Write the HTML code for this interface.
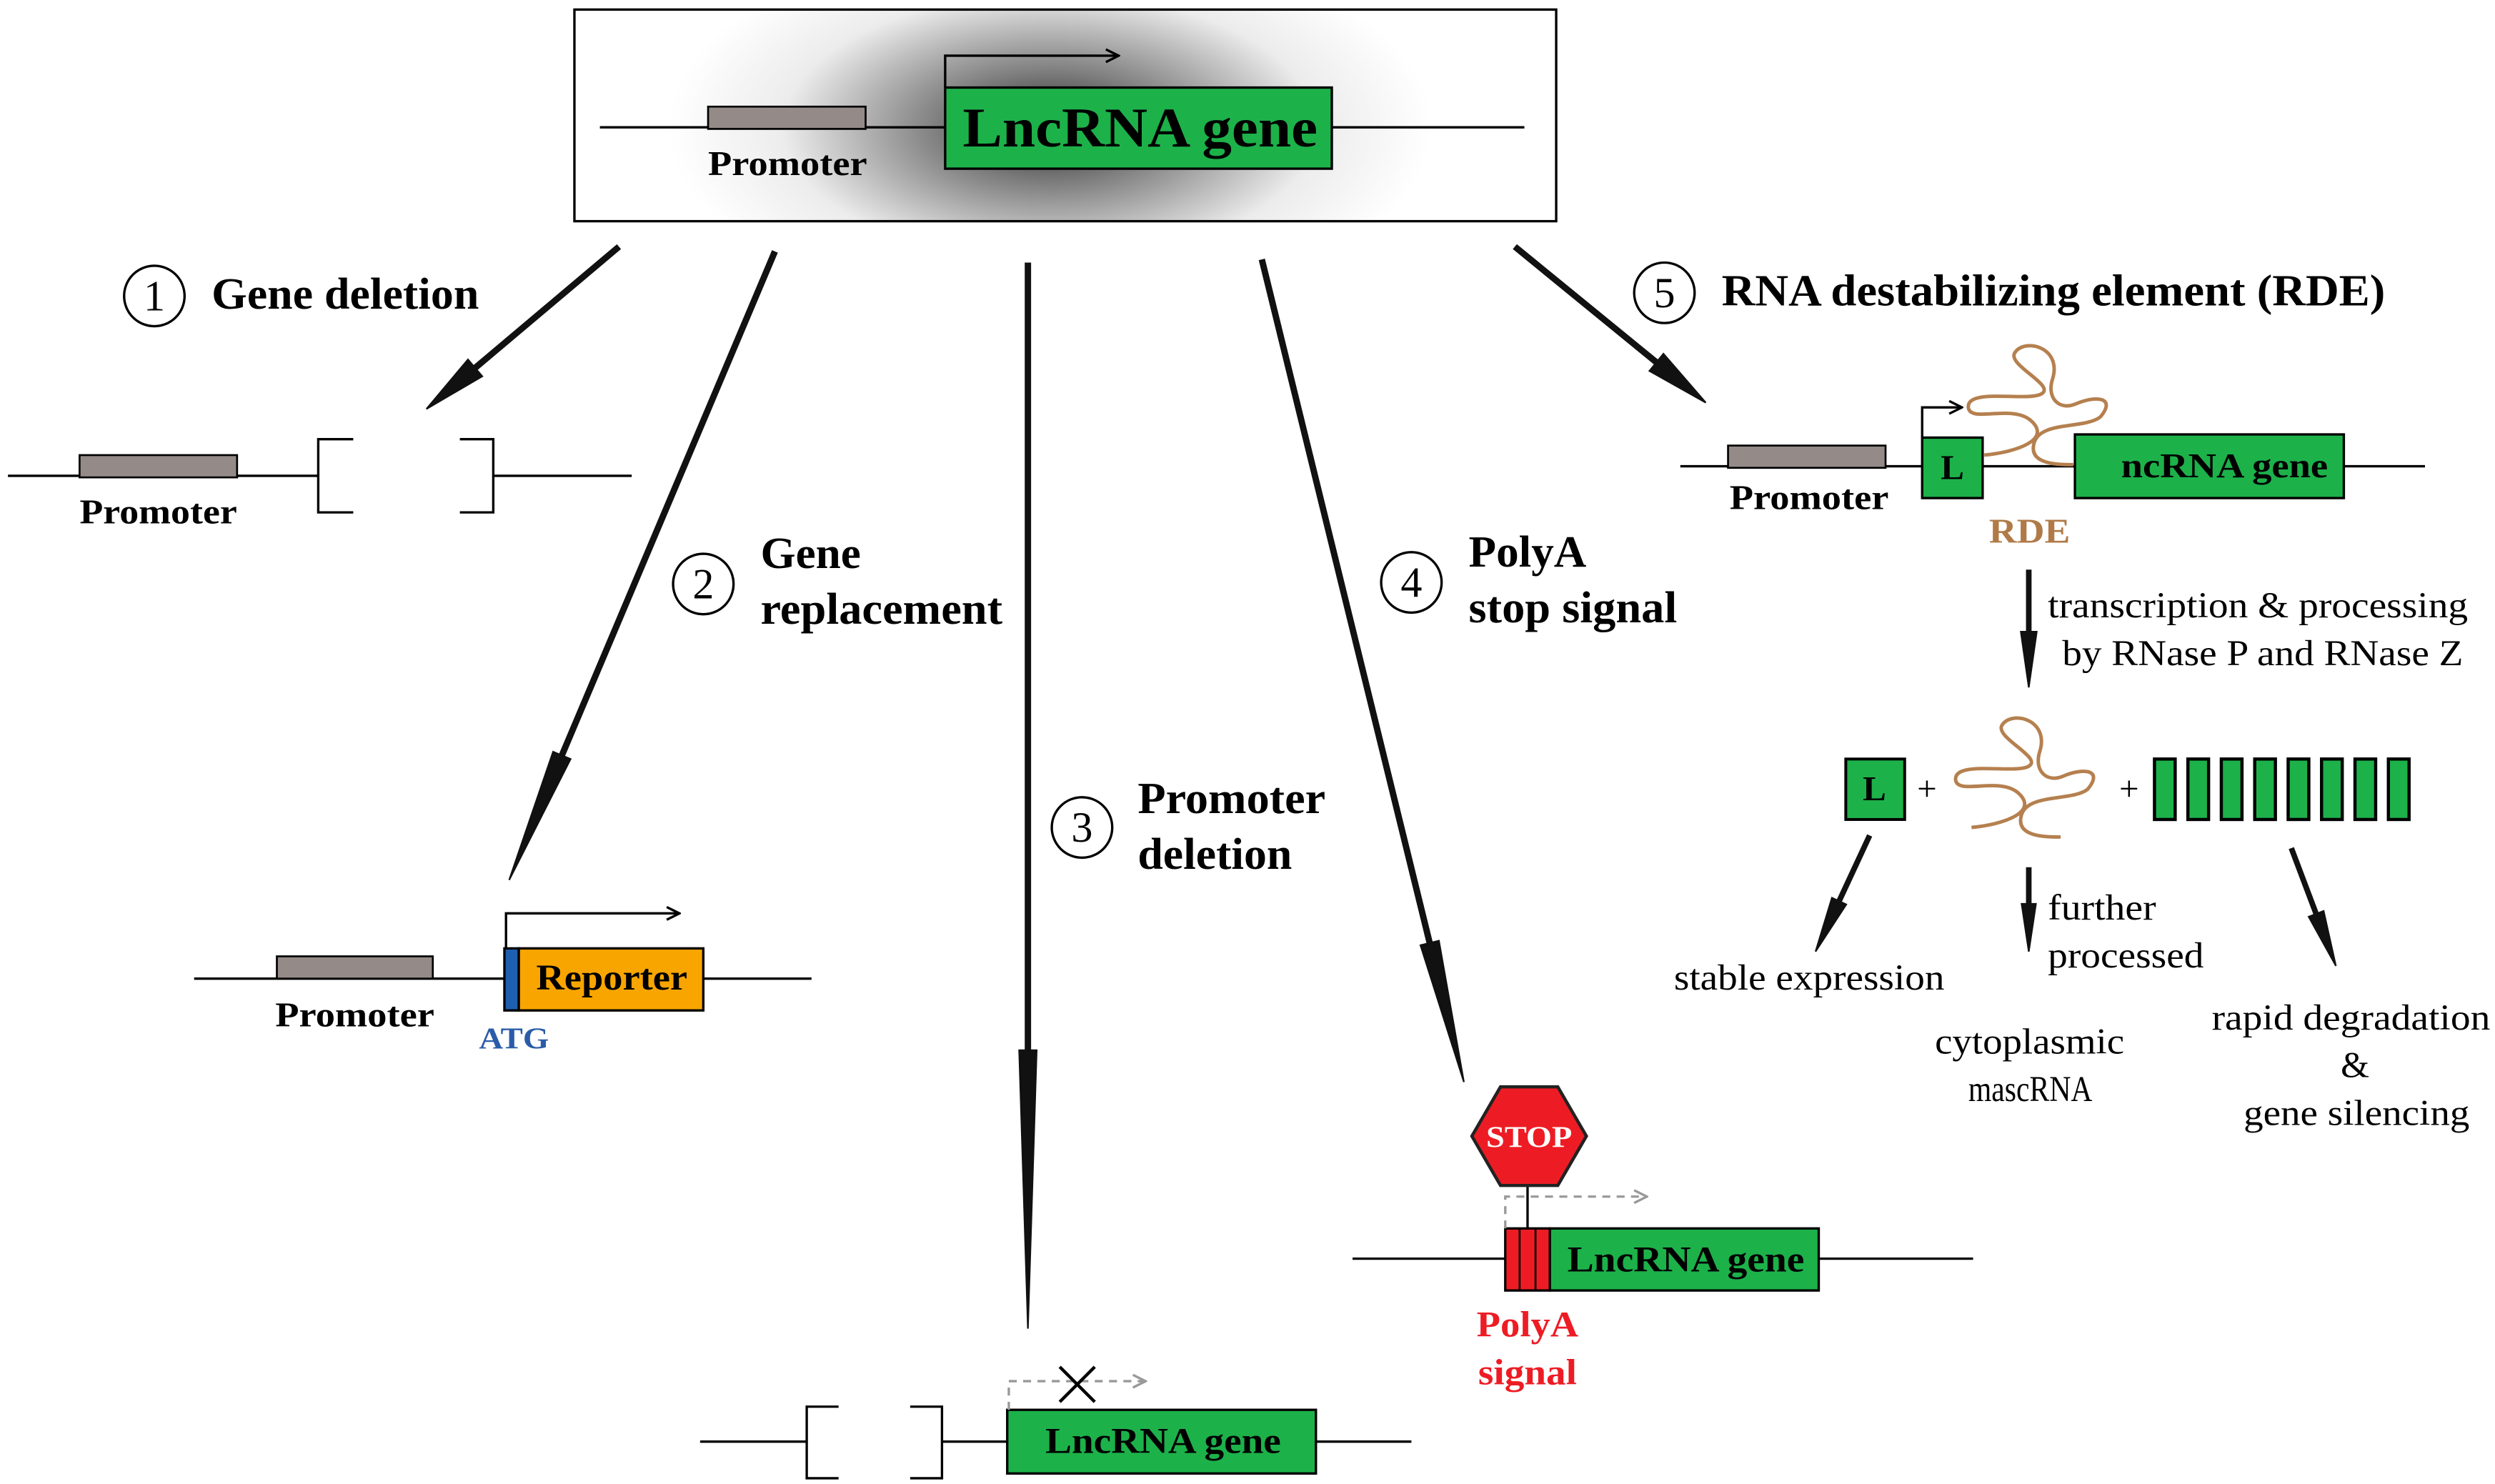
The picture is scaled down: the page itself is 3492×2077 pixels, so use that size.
<!DOCTYPE html>
<html><head><meta charset="utf-8"><style>
html,body{margin:0;padding:0;background:#fff;}
svg{display:block;}
svg text{font-family:"Liberation Serif","DejaVu Serif",serif;}
.b{font-weight:bold;}
</style></head><body>
<svg width="3492" height="2077" viewBox="0 0 1568 932.6" xmlns="http://www.w3.org/2000/svg" font-family="Liberation Serif, DejaVu Serif, serif">
<defs>
<radialGradient id="g" cx="660" cy="80" r="240" gradientUnits="userSpaceOnUse" gradientTransform="translate(660 80) scale(1 0.5) translate(-660 -80)">
<stop offset="0" stop-color="#2a2a2a"/><stop offset="0.3" stop-color="#808080"/><stop offset="0.7" stop-color="#ececec"/><stop offset="1" stop-color="#fff"/>
</radialGradient>
<marker id="oa" viewBox="0 0 10 10" refX="9" refY="5" markerWidth="10" markerHeight="10" orient="auto" markerUnits="userSpaceOnUse"><path d="M1,1 L9,5 L1,9" fill="none" stroke="#000" stroke-width="1.5"/></marker>
<marker id="ga" viewBox="0 0 10 10" refX="9" refY="5" markerWidth="10" markerHeight="10" orient="auto" markerUnits="userSpaceOnUse"><path d="M1,1 L9,5 L1,9" fill="none" stroke="#999" stroke-width="1.5"/></marker>
<path id="sq" d="M1247,286 C1268,284 1290,276 1276,264 C1264,254 1238,266 1237,256 C1236,244 1272,252 1282,248 C1294,243 1262,230 1266,222 C1272,212 1296,218 1290,238 C1286,250 1294,258 1304,254 C1318,248 1330,250 1320,262 C1310,270 1280,264 1278,280 C1276,292 1294,292 1303,292" fill="none" stroke="#b5804f" stroke-width="2.2"/>
</defs>

<rect x="361" y="6" width="617" height="133" fill="url(#g)" stroke="#000" stroke-width="1.5"/>
<line x1="377" y1="80" x2="958" y2="80" stroke="#000" stroke-width="1.5"/>
<rect x="445" y="67" width="99" height="14" fill="#948a87" stroke="#000" stroke-width="1.2"/>
<text x="445" y="110" font-size="22" class="b" textLength="100" lengthAdjust="spacingAndGlyphs">Promoter</text>
<rect x="594" y="55" width="243" height="51" fill="#1db14a" stroke="#000" stroke-width="1.5"/>
<text x="605" y="92" font-size="35" class="b" textLength="223" lengthAdjust="spacingAndGlyphs">LncRNA gene</text>
<polyline points="594,55 594,35 703,35" fill="none" stroke="#000" stroke-width="1.5" marker-end="url(#oa)"/>

<g stroke="#111" stroke-width="4" fill="#111">
<line x1="389" y1="155" x2="298.6" y2="231.2"/>
<polygon points="268,257 303.1,236.5 294.1,225.9" stroke-width="1"/>
<line x1="487" y1="158" x2="353.1" y2="474.7"/>
<polygon points="320,553 358.6,477 347.6,472.4" stroke-width="1"/>
<line x1="646" y1="165" x2="646" y2="660"/>
<polygon points="646,835 640.5,660 651.5,660" stroke-width="1"/>
<line x1="793" y1="163" x2="898.5" y2="592.6"/>
<polygon points="920,680 904.3,591.2 892.7,594" stroke-width="1"/>
<line x1="952" y1="155" x2="1041" y2="227.7"/>
<polygon points="1072,253 1045.4,222.3 1036.6,233.1" stroke-width="1"/>
</g>
<g stroke="#111" stroke-width="3.5" fill="#111">
<line x1="1275" y1="358" x2="1275" y2="397"/>
<polygon points="1275,432 1270,397 1280,397" stroke-width="1"/>
<line x1="1175" y1="525" x2="1155.8" y2="566.3"/>
<polygon points="1141,598 1160.3,568.4 1151.3,564.2" stroke-width="1"/>
<line x1="1275" y1="545" x2="1275" y2="568"/>
<polygon points="1275,598 1270.5,568 1279.5,568" stroke-width="1"/>
<line x1="1440" y1="533" x2="1455.6" y2="574.3"/>
<polygon points="1468,607 1460.3,572.5 1450.9,576.1" stroke-width="1"/>
</g>

<g fill="none" stroke="#000" stroke-width="1.5">
<circle cx="97" cy="186" r="19"/><circle cx="442" cy="367" r="19"/><circle cx="680" cy="520" r="19"/><circle cx="887" cy="366" r="19"/><circle cx="1046" cy="184" r="19"/>
</g>
<g font-size="27" text-anchor="middle">
<text x="97" y="195">1</text><text x="442" y="376">2</text><text x="680" y="529">3</text><text x="887" y="375">4</text><text x="1046" y="193">5</text>
</g>
<g font-size="28" class="b">
<text x="133" y="194" textLength="168" lengthAdjust="spacingAndGlyphs">Gene deletion</text>
<text x="478" y="357" textLength="63" lengthAdjust="spacingAndGlyphs">Gene</text>
<text x="478" y="392" textLength="152" lengthAdjust="spacingAndGlyphs">replacement</text>
<text x="715" y="511" textLength="118" lengthAdjust="spacingAndGlyphs">Promoter</text>
<text x="715" y="546" textLength="97" lengthAdjust="spacingAndGlyphs">deletion</text>
<text x="923" y="356" textLength="74" lengthAdjust="spacingAndGlyphs">PolyA</text>
<text x="923" y="391" textLength="131" lengthAdjust="spacingAndGlyphs">stop signal</text>
<text x="1082" y="192" textLength="417" lengthAdjust="spacingAndGlyphs">RNA destabilizing element (RDE)</text>
</g>

<g stroke="#000" stroke-width="1.5" fill="none">
<line x1="5" y1="299" x2="200" y2="299"/>
<path d="M222,276 H200 V322 H222"/>
<path d="M289,276 H310 V322 H289"/>
<line x1="310" y1="299" x2="397" y2="299"/>
</g>
<rect x="50" y="286" width="99" height="14" fill="#948a87" stroke="#000" stroke-width="1.2"/>
<text x="50" y="329" font-size="22" class="b" textLength="99" lengthAdjust="spacingAndGlyphs">Promoter</text>

<line x1="122" y1="615" x2="510" y2="615" stroke="#000" stroke-width="1.5"/>
<rect x="174" y="601" width="98" height="14" fill="#948a87" stroke="#000" stroke-width="1.2"/>
<text x="173" y="645" font-size="22" class="b" textLength="100" lengthAdjust="spacingAndGlyphs">Promoter</text>
<rect x="326" y="596" width="116" height="39" fill="#f9a500" stroke="#000" stroke-width="1.5"/>
<rect x="317" y="596" width="9" height="39" fill="#1f5fb0" stroke="#000" stroke-width="1.5"/>
<text x="337" y="622" font-size="23" class="b" textLength="95" lengthAdjust="spacingAndGlyphs">Reporter</text>
<text x="301" y="659" font-size="19" class="b" fill="#2a5ca8" textLength="44" lengthAdjust="spacingAndGlyphs">ATG</text>
<polyline points="318,596 318,574 427,574" fill="none" stroke="#000" stroke-width="1.5" marker-end="url(#oa)"/>

<g stroke="#000" stroke-width="1.5" fill="none">
<line x1="440" y1="906" x2="507" y2="906"/>
<path d="M527,884 H507 V929 H527"/>
<path d="M572,884 H592 V929 H572"/>
<line x1="592" y1="906" x2="633" y2="906"/>
<line x1="827" y1="906" x2="887" y2="906"/>
</g>
<rect x="633" y="886" width="194" height="40" fill="#1db14a" stroke="#000" stroke-width="1.5"/>
<text x="657" y="913" font-size="23" class="b" textLength="148" lengthAdjust="spacingAndGlyphs">LncRNA gene</text>
<polyline points="634,886 634,868 720,868" fill="none" stroke="#999" stroke-width="1.5" stroke-dasharray="5,4" marker-end="url(#ga)"/>
<path d="M666,859 L688,881 M688,859 L666,881" stroke="#000" stroke-width="2"/>

<line x1="850" y1="791" x2="1240" y2="791" stroke="#000" stroke-width="1.5"/>
<rect x="974" y="772" width="169" height="39" fill="#1db14a" stroke="#000" stroke-width="1.5"/>
<rect x="946" y="772" width="28" height="39" fill="#ed1c24" stroke="#000" stroke-width="1.5"/>
<line x1="955" y1="772" x2="955" y2="811" stroke="#000" stroke-width="1.2"/>
<line x1="965" y1="772" x2="965" y2="811" stroke="#000" stroke-width="1.2"/>
<text x="985" y="799" font-size="23" class="b" textLength="149" lengthAdjust="spacingAndGlyphs">LncRNA gene</text>
<polyline points="946,772 946,752 1035,752" fill="none" stroke="#999" stroke-width="1.5" stroke-dasharray="5,4" marker-end="url(#ga)"/>
<line x1="960" y1="745" x2="960" y2="772" stroke="#000" stroke-width="1.5"/>
<polygon points="943,683 979,683 997,714 979,745 943,745 925,714" fill="#ed1c24" stroke="#222" stroke-width="2"/>
<text x="934" y="721" font-size="19" class="b" fill="#fff" textLength="54" lengthAdjust="spacingAndGlyphs">STOP</text>
<text x="928" y="840" font-size="23" class="b" fill="#ed1c24" textLength="64" lengthAdjust="spacingAndGlyphs">PolyA</text>
<text x="929" y="870" font-size="23" class="b" fill="#ed1c24" textLength="62" lengthAdjust="spacingAndGlyphs">signal</text>

<line x1="1056" y1="293" x2="1524" y2="293" stroke="#000" stroke-width="1.5"/>
<rect x="1086" y="280" width="99" height="14" fill="#948a87" stroke="#000" stroke-width="1.2"/>
<text x="1087" y="320" font-size="22" class="b" textLength="100" lengthAdjust="spacingAndGlyphs">Promoter</text>
<rect x="1304" y="273" width="169" height="40" fill="#1db14a" stroke="#000" stroke-width="1.5"/>
<text x="1333" y="300" font-size="22" class="b" textLength="130" lengthAdjust="spacingAndGlyphs">ncRNA gene</text>
<rect x="1208" y="275" width="38" height="38" fill="#1db14a" stroke="#000" stroke-width="1.5"/>
<text x="1227" y="301" font-size="22" text-anchor="middle" class="b">L</text>
<polyline points="1208,275 1208,256 1233,256" fill="none" stroke="#000" stroke-width="1.5" marker-end="url(#oa)"/>
<use href="#sq"/>
<text x="1250" y="341" font-size="22" class="b" fill="#b07a48" textLength="51" lengthAdjust="spacingAndGlyphs">RDE</text>
<text x="1287" y="388" font-size="23" textLength="264" lengthAdjust="spacingAndGlyphs">transcription &amp; processing</text>
<text x="1296" y="418" font-size="23" textLength="252" lengthAdjust="spacingAndGlyphs">by RNase P and RNase Z</text>

<rect x="1160" y="477" width="37" height="38" fill="#1db14a" stroke="#000" stroke-width="1.8"/>
<text x="1178" y="503" font-size="22" text-anchor="middle" class="b">L</text>
<text x="1211" y="503" font-size="22" text-anchor="middle">+</text>
<use href="#sq" transform="translate(-8 234)"/>
<text x="1338" y="503" font-size="22" text-anchor="middle">+</text>
<g fill="#1db14a" stroke="#000" stroke-width="2">
<rect x="1354" y="477" width="13" height="38"/><rect x="1375" y="477" width="13" height="38"/><rect x="1396" y="477" width="13" height="38"/><rect x="1417" y="477" width="13" height="38"/><rect x="1438" y="477" width="13" height="38"/><rect x="1459" y="477" width="13" height="38"/><rect x="1480" y="477" width="13" height="38"/><rect x="1501" y="477" width="13" height="38"/>
</g>
<g font-size="23">
<text x="1052" y="622" textLength="170" lengthAdjust="spacingAndGlyphs">stable expression</text>
<text x="1287" y="578" textLength="68" lengthAdjust="spacingAndGlyphs">further</text>
<text x="1287" y="608" textLength="98" lengthAdjust="spacingAndGlyphs">processed</text>
<text x="1216" y="662" textLength="119" lengthAdjust="spacingAndGlyphs">cytoplasmic</text>
<text x="1237" y="692" textLength="78" lengthAdjust="spacingAndGlyphs">mascRNA</text>
<text x="1390" y="647" textLength="175" lengthAdjust="spacingAndGlyphs">rapid degradation</text>
<text x="1480" y="677" text-anchor="middle">&amp;</text>
<text x="1410" y="707" textLength="142" lengthAdjust="spacingAndGlyphs">gene silencing</text>
</g>
</svg>
</body></html>
